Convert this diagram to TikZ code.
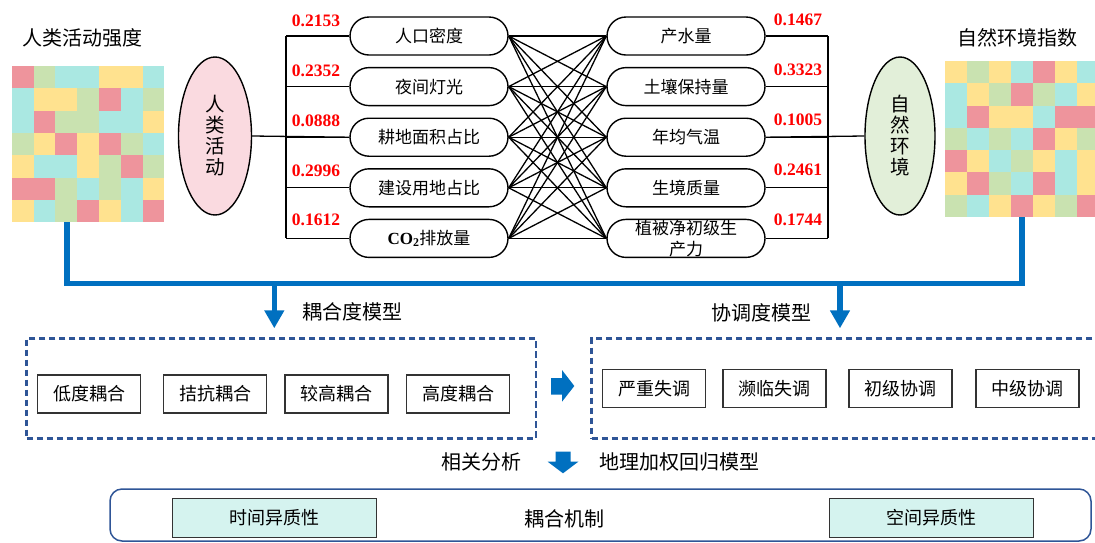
\documentclass[tikz,border=0pt]{standalone}
\usepackage{fontspec}
\setmainfont{Noto Sans CJK SC}
\newfontfamily\numfont{Liberation Serif}
\usetikzlibrary{shapes.geometric,shapes.misc,arrows.meta}
\definecolor{flowblue}{RGB}{0,112,192}
\definecolor{boxblue}{RGB}{47,85,151}
\definecolor{tilepk}{RGB}{238,148,156}
\definecolor{tilegn}{RGB}{201,226,176}
\definecolor{tilecy}{RGB}{170,232,226}
\definecolor{tileyl}{RGB}{255,226,143}
\definecolor{humfill}{RGB}{250,218,224}
\definecolor{natfill}{RGB}{226,239,217}
\definecolor{hetfill}{RGB}{213,243,239}
\newcommand\cotwo{{\numfont\bfseries CO\textsubscript{2}}}
\begin{document}
\begin{tikzpicture}[x=1pt,y=-1pt]
    \tikzset{
        factor/.style={draw, rounded rectangle, line width=1.4pt, minimum width=158pt,
            minimum height=38pt, inner sep=0pt, align=center, font=\fontsize{17}{20.5}\selectfont},
        weight/.style={text=red, inner sep=0pt, font=\numfont\bfseries\fontsize{17.5}{20}\selectfont},
        sphere/.style={draw, ellipse, line width=1.4pt, inner sep=0pt, minimum height=158pt,
            align=center, font=\fontsize{19.5}{21}\selectfont},
        wire/.style={line width=1.3pt},
        title/.style={inner sep=0pt, font=\fontsize{20}{24}\selectfont},
        grade/.style={draw=black!80, line width=1.4pt, minimum width=103pt, minimum height=38pt,
            inner sep=0pt, font=\fontsize{18}{20}\selectfont},
        hetero/.style={grade, fill=hetfill, minimum width=204pt, minimum height=39pt},
        modelbox/.style={draw=boxblue, line width=2.5pt, dash pattern=on 6.5pt off 3.5pt,
            minimum height=100pt, inner sep=0pt},
        bluebus/.style={draw=flowblue, line width=5.5pt},
        bluearr/.style={draw=flowblue, line width=5.5pt, -{Triangle[width=19pt,length=18pt]}}
    }
    \useasboundingbox (0,0) rectangle (1095,542);
    \clip (0,0) rectangle (1095,542);
    \fill[white] (0,0) rectangle (1095,542);

    \node[title] (humtitle) at (82,38) {人类活动强度};
    \node[title] (nattitle) at (1017,38) {自然环境指数};

    \foreach \row [count=\r from 0] in {
        {tilepk,tilegn,tilecy,tilecy,tileyl,tileyl,tilecy},
        {tilecy,tileyl,tileyl,tilegn,tilepk,tilecy,tilegn},
        {tilecy,tilepk,tilegn,tilegn,tilecy,tilecy,tileyl},
        {tilegn,tileyl,tilepk,tileyl,tilepk,tilegn,tilecy},
        {tileyl,tilecy,tilecy,tileyl,tilegn,tilepk,tilegn},
        {tilepk,tilepk,tilegn,tilecy,tilegn,tilecy,tileyl},
        {tileyl,tilecy,tilegn,tilepk,tileyl,tilecy,tilepk}}
        \foreach \c [count=\k from 0] in \row
            \fill[\c] ({11.7+21.8*\k},{66+22.3*\r}) rectangle ++(21.8,22.3);
    \foreach \row [count=\r from 0] in {
        {tileyl,tilegn,tileyl,tilecy,tilepk,tileyl,tilecy},
        {tilecy,tileyl,tilegn,tilepk,tilegn,tilecy,tileyl},
        {tilecy,tilepk,tileyl,tileyl,tilecy,tilepk,tilepk},
        {tilegn,tilecy,tilegn,tilecy,tilepk,tileyl,tilegn},
        {tilepk,tileyl,tilecy,tilegn,tileyl,tilecy,tileyl},
        {tileyl,tilepk,tilegn,tilecy,tilepk,tilecy,tileyl},
        {tilegn,tilecy,tileyl,tilepk,tileyl,tilegn,tilepk}}
        \foreach \c [count=\k from 0] in \row
            \fill[\c] ({945+22*\k},{61+22.25*\r}) rectangle ++(22,22.25);

    \node[sphere, fill=humfill, minimum width=73pt] (hum) at (215,136) {人\\类\\活\\动};
    \node[sphere, fill=natfill, minimum width=70pt] (nat) at (900,136) {自\\然\\环\\境};

    \foreach \t [count=\i] in {人口密度, 夜间灯光, 耕地面积占比, 建设用地占比, \cotwo{}排放量}
        \node[factor] (l\i) at (429,{36+50.6*(\i-1)}) {\t};
    \foreach \t [count=\i] in {产水量, 土壤保持量, 年均气温, 生境质量, 植被净初级生\\产力}
        \node[factor] (r\i) at (686,{36+50.6*(\i-1)}) {\t};

    \foreach \v [count=\i] in {0.2153, 0.2352, 0.0888, 0.2996, 0.1612}
        \node[weight] (wl\i) at (316,{21+49.8*(\i-1)}) {\v};
    \foreach \v [count=\i] in {0.1467, 0.3323, 0.1005, 0.2461, 0.1744}
        \node[weight] (wr\i) at (798,{19.5+50*(\i-1)}) {\v};

    \coordinate (bl) at (286,0);
    \coordinate (br) at (828,0);
    \foreach \i in {1,...,5} {
        \draw[wire] (l\i.west) -- (l\i.west -| bl);
        \draw[wire] (r\i.east) -- (r\i.east -| br);
        \foreach \j in {1,...,5}
            \draw[wire] (l\i.east) -- (r\j.west);
    }
    \draw[wire] (l1.west -| bl) -- (l5.west -| bl);
    \draw[wire] (r1.east -| br) -- (r5.east -| br);
    \draw[wire] (hum.east) -- (l3.west);
    \draw[wire] (nat.west) -- (r3.east);

    \coordinate (mosL) at (67,222);
    \coordinate (mosR) at (1022,216.7);
    \coordinate (busy) at (0,283.5);
    \draw[bluebus] (mosL) -- (mosL |- busy) -- (mosR |- busy) -- (mosR);
    \coordinate (cplsrc) at (274.3,283.5);
    \coordinate (cpltip) at (274.3,328.3);
    \coordinate (coosrc) at (840,283.5);
    \coordinate (cootip) at (840,328.3);
    \draw[bluearr] (cplsrc) -- (cpltip);
    \draw[bluearr] (coosrc) -- (cootip);
    \node[title] (cpltitle) at (352,311.7) {耦合度模型};
    \node[title] (cootitle) at (761,313) {协调度模型};

    \node[modelbox, minimum width=509.3pt] (cplbox) at (281.3,388.3) {};
    \node[modelbox, minimum width=505.3pt] (coobox) at (844.3,388.3) {};
    \foreach \t/\x [count=\i] in {低度耦合/89, 拮抗耦合/215, 较高耦合/336.5, 高度耦合/458}
        \node[grade] (cg\i) at (\x,394) {\t};
    \foreach \t/\x [count=\i] in {严重失调/654, 濒临失调/774.5, 初级协调/900.5, 中级协调/1027.5}
        \node[grade] (dg\i) at (\x,388.5) {\t};
    \fill[flowblue] (551,378) -- (562,378) -- (562,370) -- (574.3,386) -- (562,401.7)
        -- (562,394.5) -- (551,394.5) -- cycle;

    \node[title] (corr) at (481,461.7) {相关分析};
    \fill[flowblue] (555.5,451.7) -- (570.5,451.7) -- (570.5,461.7) -- (578.3,461.7)
        -- (563,473.3) -- (547.7,461.7) -- (555.5,461.7) -- cycle;
    \node[title] (gwr) at (679.5,461.7) {地理加权回归模型};

    \node[draw=boxblue, line width=1.5pt, rounded corners=12pt, minimum width=981pt,
        minimum height=52pt, inner sep=0pt] (mech) at (600.5,515) {};
    \node[title] (mechtitle) at (564.5,519.3) {耦合机制};
    \node[hetero] (timehet) at (274.5,518) {时间异质性};
    \node[hetero] (spacehet) at (931.7,518) {空间异质性};
\end{tikzpicture}
\end{document}
